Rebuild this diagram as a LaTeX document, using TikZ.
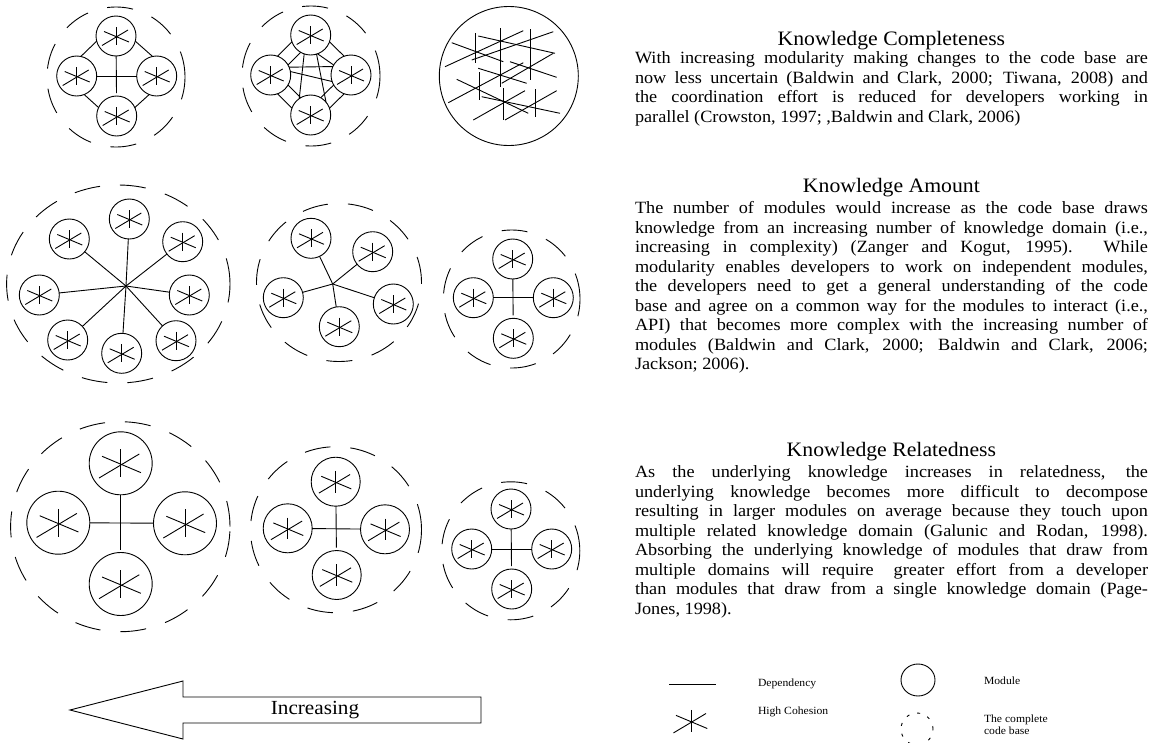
\documentclass[tikz,border=0pt]{standalone}
\usepackage{fontspec}
\setmainfont{Liberation Serif}[FakeStretch=1.06]
\usetikzlibrary{shapes.geometric}
% one module: circle node plus the cohesion mark at its centre
\newcommand\mdl[4]{%
  \node[modnode=#3] (#1) at (#2) {};
  \pic[scale=#4] at (#1) {cohesion};}
% a justified line of given width
\newcommand\jl[1]{\makebox[\linewidth][s]{#1}}
\begin{document}
\begin{tikzpicture}[x=1pt,y=-1pt,
  every node/.style={inner sep=0pt, outer sep=0pt},
  modnode/.style={circle, draw, line width=0.9pt, minimum size=#1},
  modnode/.default=40pt,
  dep/.style={line width=0.9pt},
  codebase/.style={line width=0.9pt, dash pattern=on 26pt off 20pt},
  cohesion/.pic={
    \draw[line width=0.9pt] (0,-9) -- (0,9);
    \draw[line width=0.9pt] (-14,9.5) -- (12,-6);
    \draw[line width=0.9pt] (-12,-4.5) -- (13,6);
  },
  bodytext/.style={anchor=base west, font=\fontsize{17.2}{19.5}\selectfont},
  headtext/.style={anchor=base, font=\fontsize{20.5}{24}\selectfont},
  legtext/.style={anchor=base west, font=\fontsize{11}{12}\selectfont}
]
\useasboundingbox (0,0) rectangle (1154,742);

% ---------- row 1: knowledge completeness ----------
\draw[codebase] (116,77) ellipse [x radius=69pt, y radius=70pt];
\mdl{a1}{116,36}{40pt}{1}
\mdl{a2}{76.7,76}{40pt}{1}
\mdl{a3}{156.7,76}{40pt}{1}
\mdl{a4}{116.7,116}{40pt}{1}
\draw[dep] (a1.195) -- (a2.78);
\draw[dep] (a1.345) -- (a3.102);
\draw[dep] (a2.292) -- (a4.155);
\draw[dep] (a3.248) -- (a4.25);
\draw[dep] (a2) -- (a3);
\draw[dep, shorten >=3pt] (a1) -- (a4);

\draw[codebase] (311,76) ellipse [x radius=69pt, y radius=70pt];
\mdl{b1}{310.7,35}{40pt}{1}
\mdl{b2}{270.7,75}{40pt}{1}
\mdl{b3}{351,75}{40pt}{1}
\mdl{b4}{310.7,115}{40pt}{1}
\draw[dep] (b1.200) -- (b2.70);
\draw[dep] (b1.240) -- (b2.30);
\draw[dep] (b1.340) -- (b3.110);
\draw[dep] (b1.290) -- (b3.150);
\draw[dep] (b2.290) -- (b4.160);
\draw[dep] (b2.330) -- (b4.120);
\draw[dep] (b3.250) -- (b4.20);
\draw[dep] (b3.210) -- (b4.60);
\draw[dep] (b1.251) -- (b4.125);
\draw[dep] (b1.287) -- (b4.40);
\draw[dep] (b2.23) -- (b3.155);
\draw[dep] (b2.10) -- (b3.199);

\node[circle, draw, line width=0.9pt, minimum size=139pt] (whole) at (508.8,76) {};
\begin{scope}[line width=0.9pt]
  \draw (475,33) -- (475,63);
  \draw (500,28) -- (500,87);
  \draw (530,29) -- (530,80);
  \draw (479.3,72) -- (479.3,100);
  \draw (503.3,88) -- (503.3,120);
  \draw (535,89) -- (535,117);
  \draw (445,66.7) -- (523.3,30.7);
  \draw (471.7,60) -- (553.3,31.7);
  \draw (501.7,83.3) -- (553.3,53.3);
  \draw (448.3,102.7) -- (523.3,62.7);
  \draw (473.3,120) -- (525,90.7);
  \draw (505,120) -- (556.7,90.7);
  \draw (451.7,42.7) -- (503.3,61.7);
  \draw (478.3,36) -- (555,53.3);
  \draw (510,61.7) -- (556.7,77.3);
  \draw (478.3,68.3) -- (526.7,83.3);
  \draw (456.7,79.3) -- (528.3,113.3);
  \draw (481.7,96.7) -- (560,113.3);
\end{scope}

% ---------- row 2: knowledge amount ----------
\draw[codebase] (118.3,284) ellipse [x radius=111.7pt, y radius=99pt];
\coordinate (hc) at (126,286);
\mdl{c1}{129.3,219}{40pt}{1}
\mdl{c2}{69.3,239}{40pt}{1}
\mdl{c3}{182.7,241.7}{40pt}{1}
\mdl{c4}{39.3,295}{40pt}{1}
\mdl{c5}{189.3,295}{40pt}{1}
\mdl{c6}{67.7,340}{40pt}{1}
\mdl{c7}{176,340.7}{40pt}{1}
\mdl{c8}{121.7,353.3}{40pt}{1}
\foreach \m in {c1,c2,c3,c4,c5,c6,c7,c8} \draw[dep] (hc) -- (\m);

\draw[codebase] (339,282.5) ellipse [x radius=82.5pt, y radius=79pt];
\coordinate (hd) at (332.7,284);
\mdl{d1}{311,238.3}{40pt}{1}
\mdl{d2}{372.7,251.7}{40pt}{1}
\mdl{d3}{283.3,297.7}{40pt}{1}
\mdl{d4}{393.3,304}{40pt}{1}
\mdl{d5}{339.3,326.7}{40pt}{1}
\foreach \m in {d1,d2,d3,d4,d5} \draw[dep] (hd) -- (\m);

\draw[codebase] (511.7,299) ellipse [x radius=68.3pt, y radius=69pt];
\mdl{e1}{512.7,259}{40pt}{1}
\mdl{e2}{473.3,297.7}{40pt}{1}
\mdl{e3}{553.3,297.7}{40pt}{1}
\mdl{e4}{513.3,338.3}{40pt}{1}
\draw[dep] (e2) -- (e3);
\draw[dep, shorten >=3pt] (e1) -- (e4);

% ---------- row 3: knowledge relatedness ----------
\draw[codebase] (120.3,526.7) ellipse [x radius=109.7pt, y radius=105pt];
\mdl{f1}{120.7,463.3}{63pt}{1.55}
\mdl{f2}{58.3,522.7}{63pt}{1.55}
\mdl{f3}{185,523.3}{63pt}{1.55}
\mdl{f4}{120.7,584}{63pt}{1.55}
\draw[dep] (f2) -- (f3);
\draw[dep, shorten >=3pt] (f1) -- (f4);

\draw[codebase] (336,529.7) ellipse [x radius=85.5pt, y radius=83pt];
\mdl{g1}{335.7,481.7}{49pt}{1.2}
\mdl{g2}{287.7,528.3}{49pt}{1.2}
\mdl{g3}{385,529.3}{49pt}{1.2}
\mdl{g4}{336.7,575}{49pt}{1.2}
\draw[dep] (g2) -- (g3);
\draw[dep, shorten >=3pt] (g1) -- (g4);

\draw[codebase] (510.8,550.8) ellipse [x radius=69pt, y radius=69pt];
\mdl{h1}{511,509}{40pt}{1}
\mdl{h2}{471.7,549}{40pt}{1}
\mdl{h3}{551.7,549}{40pt}{1}
\mdl{h4}{511.7,589}{40pt}{1}
\draw[dep] (h2) -- (h3);
\draw[dep, shorten >=3pt] (h1) -- (h4);

% ---------- text blocks ----------
\node[headtext] (t1) at (891.4,45) {Knowledge Completeness};
\node[bodytext] (p1) at (635,63.5) {\begin{minipage}[t]{513pt}%
\jl{With increasing modularity making changes to the code base are}\\
\jl{now less uncertain (Baldwin and Clark, 2000; Tiwana, 2008) and}\\
\jl{the coordination effort is reduced for developers working in}\\
parallel (Crowston, 1997; ,Baldwin and Clark, 2006)\end{minipage}};

\node[headtext] (t2) at (891.4,192.3) {Knowledge Amount};
\node[bodytext] (p2) at (635,213.5) {\begin{minipage}[t]{513pt}%
\jl{The number of modules would increase as the code base draws}\\
\jl{knowledge from an increasing number of knowledge domain (i.e.,}\\
\jl{increasing in complexity) (Zanger and Kogut, 1995). While}\\
\jl{modularity enables developers to work on independent modules,}\\
\jl{the developers need to get a general understanding of the code}\\
\jl{base and agree on a common way for the modules to interact (i.e.,}\\
\jl{API) that becomes more complex with the increasing number of}\\
\jl{modules (Baldwin and Clark, 2000; Baldwin and Clark, 2006;}\\
Jackson; 2006).\end{minipage}};

\node[headtext] (t3) at (891.4,456.2) {Knowledge Relatedness};
\node[bodytext] (p3) at (635,477.5) {\begin{minipage}[t]{513pt}%
\jl{As the underlying knowledge increases in relatedness, the}\\
\jl{underlying knowledge becomes more difficult to decompose}\\
\jl{resulting in larger modules on average because they touch upon}\\
\jl{multiple related knowledge domain (Galunic and Rodan, 1998).}\\
\jl{Absorbing the underlying knowledge of modules that draw from}\\
\jl{multiple domains will require\hspace{8pt} greater effort from a developer}\\
\jl{than modules that draw from a single knowledge domain (Page-}\\
Jones, 1998).\end{minipage}};

% ---------- direction arrow ----------
\draw[line width=0.9pt] (481,697) -- (183,697) -- (183,681) -- (70,710)
  -- (183,739) -- (183,723) -- (481,723) -- cycle;
\node[anchor=center, font=\fontsize{20}{24}\selectfont] (inc) at (315,710) {Increasing};

% ---------- legend ----------
\coordinate (ldA) at (669,684);
\coordinate (ldB) at (716,684);
\draw[dep] (ldA) -- (ldB);
\node[legtext] (l1) at (758,686) {Dependency};
\pic[scale=1.25] at (691,721) {cohesion};
\node[legtext] (l2) at (758,714) {High Cohesion};
\node[draw, ellipse, line width=0.9pt, minimum width=34pt, minimum height=32pt] (lm) at (918,680) {};
\node[legtext] (l3) at (984,684) {Module};
\draw[line width=0.9pt, dash pattern=on 3pt off 8pt] (917,729) circle [radius=16pt];
\node[legtext, align=left, font=\fontsize{11}{12}\selectfont] (l4) at (984,734) {The complete\\code base};
\end{tikzpicture}
\end{document}
